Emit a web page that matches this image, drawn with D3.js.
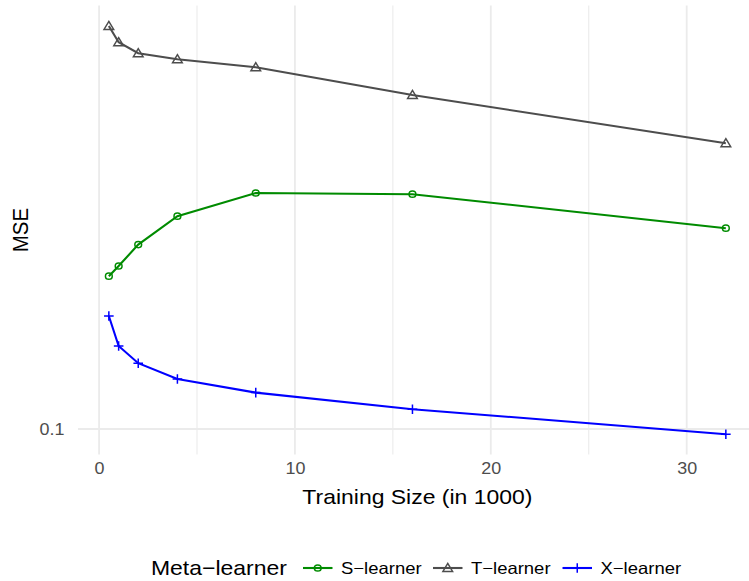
<!DOCTYPE html>
<html><head><meta charset="utf-8">
<script src="https://cdn.jsdelivr.net/npm/d3@7"></script>
<style>
body{margin:0;background:#fff}
svg{display:block}
text{font-family:"Liberation Sans", Arial, Helvetica, sans-serif}
</style>
</head><body><div id="chart"></div>
<script>
// ---- data ----
const trainingSize = [0.5, 1, 2, 4, 8, 16, 32];
const sLearner = [0.1764, 0.1815, 0.1922, 0.2064, 0.2180, 0.2174, 0.2004];
const tLearner = [0.3015, 0.2934, 0.2879, 0.2849, 0.2809, 0.2670, 0.2429];
const xLearner = [0.1565, 0.1415, 0.1329, 0.1250, 0.1182, 0.1099, 0.0974];
const seriesNames = ["S\u2212learner", "T\u2212learner", "X\u2212learner"];
const xTicks = [0, 10, 20, 30];
const xMinorTicks = [5, 15, 25];
const yTicks = [0.1];
const yTickLabels = ["0.1"];
const legendTitle = "Meta\u2212learner";
const xTitle = "Training Size (in 1000)";
const yTitle = "MSE";

// ---- styles ----
const colors = ["#008B00", "#4D4D4D", "#0000FF"];
const shapes = ["circle", "triangle", "plus"];
const W = 749, H = 581, SX = 1.12;

const series = seriesNames.map((name, i) => ({
  name, color: colors[i], shape: shapes[i],
  values: trainingSize.map((x, j) => ({x, y: [sLearner, tLearner, xLearner][i][j]}))
}));

const svg = d3.select("#chart").append("svg").attr("width", W).attr("height", H);

const allY = sLearner.concat(tLearner, xLearner);
const xExt = d3.extent(trainingSize), yExt = d3.extent(allY);
const xPad = (xExt[1] - xExt[0]) * 0.05, yPad = (yExt[1] - yExt[0]) * 0.05;
const x = d3.scaleLinear().domain([xExt[0] - xPad, xExt[1] + xPad]).range([78, 756.7]);
const y = d3.scaleLinear().domain([yExt[0] - yPad, yExt[1] + yPad]).range([454.6, 5.6]);
const [px0, px1] = x.range(), [py1, py0] = y.range();

const grid = svg.append("g");
grid.selectAll(".minx").data(xMinorTicks).join("line")
  .attr("x1", d => x(d)).attr("x2", d => x(d)).attr("y1", py0).attr("y2", py1)
  .attr("stroke", "#EBEBEB").attr("stroke-width", 1.1);
grid.selectAll(".majx").data(xTicks).join("line")
  .attr("x1", d => x(d)).attr("x2", d => x(d)).attr("y1", py0).attr("y2", py1)
  .attr("stroke", "#EBEBEB").attr("stroke-width", 1.8);
grid.selectAll(".majy").data(yTicks).join("line")
  .attr("x1", px0).attr("x2", px1).attr("y1", d => y(d)).attr("y2", d => y(d))
  .attr("stroke", "#EBEBEB").attr("stroke-width", 1.8);

function txt(g, tx, ty, s, size, anchor, color, rot) {
  return g.append("text")
    .attr("transform", `translate(${tx},${ty}) scale(${SX},1)` + (rot ? ` rotate(${rot})` : ""))
    .attr("text-anchor", anchor).attr("font-size", size).attr("fill", color).text(s);
}

// axes via d3 axis generators
const xAxis = svg.append("g").attr("transform", `translate(0,${py1})`)
  .call(d3.axisBottom(x).tickValues(xTicks).tickSize(0).tickPadding(0));
xAxis.select(".domain").remove();
xAxis.selectAll("text").attr("y", 0).attr("dy", 0)
  .attr("transform", `translate(0,19.5) scale(${SX},1)`)
  .attr("font-size", 16).attr("fill", "#4D4D4D").attr("font-family", null);

const yAxis = svg.append("g").attr("transform", `translate(${px0},0)`)
  .call(d3.axisLeft(y).tickValues(yTicks).tickFormat((d, i) => yTickLabels[i]).tickSize(0).tickPadding(0));
yAxis.select(".domain").remove();
yAxis.selectAll("text").attr("x", 0).attr("dy", "0.35em")
  .attr("transform", `translate(-13.5,0) scale(${SX},1)`)
  .attr("font-size", 16).attr("fill", "#4D4D4D").attr("font-family", null);

txt(svg, (px0 + px1) / 2, 503.5, xTitle, 20.5, "middle", "#000");
txt(svg, 27.5, (py0 + py1) / 2, yTitle, 20.5, "middle", "#000", -90);

function marker(g, shape, color, cx, cy) {
  if (shape === "circle") {
    g.append("ellipse").attr("cx", cx).attr("cy", cy).attr("rx", 3.4).attr("ry", 3.1)
      .attr("fill", "none").attr("stroke", color).attr("stroke-width", 1.5);
  } else if (shape === "triangle") {
    const s = 4.6;
    g.append("path").attr("d", `M${cx},${cy - s}L${cx + s * 1.05},${cy + s * 0.75}L${cx - s * 1.05},${cy + s * 0.75}Z`)
      .attr("fill", "none").attr("stroke", color).attr("stroke-width", 1.5);
  } else {
    const s = 4.8;
    g.append("path").attr("d", `M${cx - s},${cy}H${cx + s}M${cx},${cy - s}V${cx === cx ? cy + s : 0}`)
      .attr("fill", "none").attr("stroke", color).attr("stroke-width", 1.5);
  }
}

const line = d3.line().x(d => x(d.x)).y(d => y(d.y));
const plot = svg.append("g");
series.forEach(s => {
  plot.append("path").datum(s.values).attr("d", line)
    .attr("fill", "none").attr("stroke", s.color).attr("stroke-width", 2.1);
  s.values.forEach(v => marker(plot, s.shape, s.color, x(v.x), y(v.y)));
});

// legend
const leg = svg.append("g");
const ly = 568;
txt(leg, 151, ly + 7, legendTitle, 20.5, "start", "#000");
const keyX = [303, 433, 562.5];
series.forEach((s, i) => {
  const kx = keyX[i];
  leg.append("line").attr("x1", kx).attr("x2", kx + 29.5).attr("y1", ly).attr("y2", ly)
    .attr("stroke", s.color).attr("stroke-width", 2.1);
  marker(leg, s.shape, s.color, kx + 14.75, ly);
  txt(leg, kx + 38, ly + 6, s.name, 16.5, "start", "#000");
});
</script>
</body></html>
